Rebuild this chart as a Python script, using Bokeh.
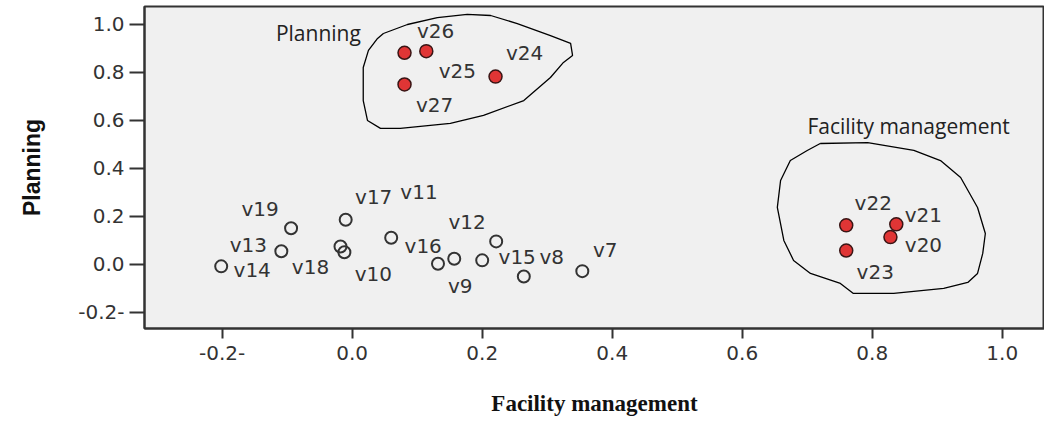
from bokeh.plotting import figure
from bokeh.models import ColumnDataSource, FixedTicker, Range1d
from bokeh.core.properties import value
from bokeh.embed import file_html
from bokeh.resources import INLINE

# ---- data ----
open_names = ["v7", "v8", "v9", "v10", "v11", "v12", "v13", "v14", "v15", "v16", "v17", "v18", "v19"]
open_fm = [0.354, 0.264, 0.157, -0.012, 0.132, 0.2215, -0.109, -0.2015, 0.200, 0.060, -0.010, -0.018, -0.094]
open_pl = [-0.028, -0.050, 0.024, 0.051, 0.003, 0.096, 0.055, -0.008, 0.017, 0.111, 0.186, 0.075, 0.151]

red_names = ["v20", "v21", "v22", "v23", "v24", "v25", "v26", "v27"]
red_fm = [0.828, 0.837, 0.760, 0.760, 0.2205, 0.114, 0.0805, 0.0805]
red_pl = [0.114, 0.167, 0.163, 0.058, 0.783, 0.889, 0.882, 0.750]

# label offsets in screen pixels (style only)
open_dx = [23, 28, 6, 29, -19, -29, -33, 31, 35, 32, 28, -30, -31]
open_dy = [-21, -19, 27, 22, -72, -19, -6, 4, -3, 8, -23, 21, -19]
red_dx = [33, 27, 27, 29, 29, 31, 31, 30]
red_dy = [8, -9, -22, 21, -24, 20, -22, 21]

# hand-drawn cluster outlines (in chart units)
plan_x = [0.048, 0.085, 0.131, 0.177, 0.213, 0.254, 0.305, 0.336, 0.339, 0.325, 0.305, 0.264, 0.202,
          0.151, 0.074, 0.0435, 0.0235, 0.017, 0.017, 0.025, 0.039, 0.048]
plan_y = [0.9625, 1.0, 1.029, 1.042, 1.0375, 1.004, 0.954, 0.921, 0.871, 0.842, 0.779, 0.683, 0.621,
          0.588, 0.567, 0.567, 0.6, 0.683, 0.821, 0.892, 0.942, 0.9625]
fac_x = [0.720, 0.793, 0.864, 0.905, 0.936, 0.962, 0.974, 0.970, 0.962, 0.947, 0.910, 0.833, 0.771,
         0.751, 0.705, 0.679, 0.664, 0.654, 0.659, 0.674, 0.700, 0.720]
fac_y = [0.504, 0.508, 0.475, 0.433, 0.3625, 0.2375, 0.129, 0.046, -0.0375, -0.075, -0.1, -0.121, -0.121,
         -0.079, -0.0375, 0.0167, 0.1, 0.2375, 0.35, 0.433, 0.475, 0.504]

cluster_names = ["Planning", "Facility management"]
cluster_x = [-0.052, 0.856]
cluster_y = [0.9625, 0.575]

ticks = [-0.2, 0.0, 0.2, 0.4, 0.6, 0.8, 1.0]
tick_labels = ["-0.2-", "0.0", "0.2", "0.4", "0.6", "0.8", "1.0"]

# ---- figure ----
p = figure(width=1044, height=423, output_backend="svg", toolbar_location=None,
           x_range=Range1d(-0.3195, 1.065), y_range=Range1d(-0.267, 1.075),
           min_border_left=144, min_border_right=0, min_border_top=6, min_border_bottom=95)
p.background_fill_color = "#f0f0f0"
p.border_fill_color = "white"
p.outline_line_color = "#333333"
p.outline_line_width = 2
p.xgrid.visible = False
p.ygrid.visible = False

for ax, t in ((p.xaxis[0], 10), (p.yaxis[0], 15)):
    ax.ticker = FixedTicker(ticks=ticks)
    ax.major_label_overrides = {k: v for k, v in zip(ticks, tick_labels)}
    ax.axis_line_color = "#333333"
    ax.axis_line_width = 2
    ax.major_tick_line_color = "#333333"
    ax.major_tick_line_width = 2
    ax.major_tick_out = t
    ax.major_tick_in = 0
    ax.minor_tick_line_color = None
    ax.major_label_text_font = "DejaVu Sans"
    ax.major_label_text_font_size = "20px"
    ax.major_label_text_color = "#333333"

p.xaxis.major_label_standoff = 7
p.yaxis.major_label_standoff = 5
p.xaxis.axis_label = "Facility management"
p.xaxis.axis_label_text_font = "Liberation Serif"
p.xaxis.axis_label_text_font_style = "bold"
p.xaxis.axis_label_text_font_size = "23px"
p.xaxis.axis_label_text_color = "#111111"
p.xaxis.axis_label_standoff = 28
p.yaxis.axis_label = "Planning"
p.yaxis.axis_label_text_font = "Liberation Sans"
p.yaxis.axis_label_text_font_style = "bold"
p.yaxis.axis_label_text_font_size = "23px"
p.yaxis.axis_label_text_color = "#111111"
p.yaxis.axis_label_standoff = 30

# outlines
p.line(plan_x, plan_y, line_color="black", line_width=1.3)
p.line(fac_x, fac_y, line_color="black", line_width=1.3)

open_src = ColumnDataSource(dict(x=open_fm, y=open_pl, name=open_names, dx=open_dx, dy=open_dy))
red_src = ColumnDataSource(dict(x=red_fm, y=red_pl, name=red_names, dx=red_dx, dy=red_dy))

p.scatter("x", "y", source=open_src, size=12, fill_color=None, line_color="#333333", line_width=2)
p.scatter("x", "y", source=red_src, size=13, fill_color="#e03535", line_color="#3a1515", line_width=1.5)

for src in (open_src, red_src):
    p.text("x", "y", text="name", source=src, x_offset="dx", y_offset="dy",
           text_align="center", text_baseline="middle", text_font=value("DejaVu Sans"),
           text_font_size="20px", text_color="#333333")

p.text(cluster_x, cluster_y, text=cluster_names, text_align="center", text_baseline="middle",
       text_font=value("Open Sans"), text_font_size="21px", text_color="#222222")

open("out.html", "w").write(file_html(p, INLINE))
